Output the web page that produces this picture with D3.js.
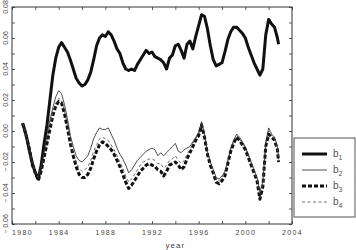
<!DOCTYPE html>
<html>
<head>
<meta charset="utf-8">
<script src="https://cdn.jsdelivr.net/npm/d3@7"></script>
<style>
  body { margin: 0; background: #fff; }
  svg { display: block; font-family: "Liberation Sans", Arial, sans-serif; }
</style>
</head>
<body>
<div id="chart"></div>
<script>
// sample times (decimal years)
var years = [1980.9,
  1981.0, 1981.25, 1981.5, 1981.75, 1982.0, 1982.25, 1982.5, 1982.75,
  1983.0, 1983.25, 1983.5, 1983.75, 1984.0, 1984.25, 1984.5, 1984.75,
  1985.0, 1985.25, 1985.5, 1985.75, 1986.0, 1986.25, 1986.5, 1986.75,
  1987.0, 1987.25, 1987.5, 1987.75, 1988.0, 1988.25, 1988.5, 1988.75,
  1989.0, 1989.25, 1989.5, 1989.75, 1990.0, 1990.25, 1990.5, 1990.75,
  1991.0, 1991.25, 1991.5, 1991.75, 1992.0, 1992.25, 1992.5, 1992.75,
  1993.0, 1993.25, 1993.5, 1993.75, 1994.0, 1994.25, 1994.5, 1994.75,
  1995.0, 1995.25, 1995.5, 1995.75, 1996.0, 1996.25, 1996.5, 1996.75,
  1997.0, 1997.25, 1997.5, 1997.75, 1998.0, 1998.25, 1998.5, 1998.75,
  1999.0, 1999.25, 1999.5, 1999.75, 2000.0, 2000.25, 2000.5, 2000.75,
  2001.0, 2001.25, 2001.5, 2001.75, 2002.0, 2002.25, 2002.5, 2002.75,
  2002.85];

var b1 = [0.005,
  0.003, -0.004, -0.013, -0.021, -0.027, -0.031, -0.022, -0.008,
  0.004, 0.020, 0.036, 0.047, 0.054, 0.057, 0.054, 0.051,
  0.046, 0.040, 0.034, 0.031, 0.029, 0.030, 0.033, 0.038,
  0.046, 0.055, 0.060, 0.062, 0.061, 0.064, 0.062, 0.058,
  0.053, 0.050, 0.044, 0.040, 0.039, 0.040, 0.039, 0.043,
  0.046, 0.049, 0.052, 0.050, 0.051, 0.048, 0.047, 0.046,
  0.044, 0.040, 0.047, 0.049, 0.055, 0.056, 0.052, 0.047,
  0.056, 0.058, 0.053, 0.061, 0.068, 0.075, 0.074, 0.066,
  0.055, 0.046, 0.042, 0.043, 0.044, 0.051, 0.059, 0.064,
  0.067, 0.067, 0.065, 0.063, 0.060, 0.054, 0.049, 0.044,
  0.040, 0.036, 0.040, 0.062, 0.072, 0.069, 0.067, 0.060,
  0.056];

var b2 = [0.005,
  0.003, -0.004, -0.012, -0.021, -0.026, -0.029, -0.022, -0.012,
  -0.002, 0.007, 0.015, 0.022, 0.026, 0.024, 0.017, 0.008,
  -0.003, -0.010, -0.016, -0.019, -0.020, -0.018, -0.016, -0.011,
  -0.005, -0.001, 0.002, 0.001, 0.001, 0.002, -0.002, -0.006,
  -0.011, -0.015, -0.018, -0.022, -0.027, -0.025, -0.022, -0.019,
  -0.017, -0.015, -0.013, -0.012, -0.011, -0.012, -0.016, -0.014,
  -0.016, -0.014, -0.012, -0.010, -0.008, -0.013, -0.014, -0.012,
  -0.011, -0.010, -0.007, -0.004, -0.001, 0.006, -0.002, -0.013,
  -0.020, -0.025, -0.030, -0.031, -0.029, -0.026, -0.019, -0.011,
  -0.006, -0.002, -0.004, -0.007, -0.010, -0.015, -0.020, -0.025,
  -0.030, -0.039, -0.033, -0.007, 0.002, -0.002, -0.004, -0.010,
  -0.018];

var b3 = [0.005,
  0.003, -0.004, -0.012, -0.022, -0.027, -0.032, -0.026, -0.017,
  -0.008, 0.001, 0.010, 0.016, 0.019, 0.018, 0.011, 0.002,
  -0.008, -0.016, -0.023, -0.028, -0.030, -0.030, -0.028, -0.024,
  -0.018, -0.013, -0.009, -0.007, -0.008, -0.010, -0.012, -0.015,
  -0.019, -0.023, -0.028, -0.033, -0.037, -0.035, -0.032, -0.029,
  -0.026, -0.024, -0.022, -0.021, -0.022, -0.023, -0.025, -0.026,
  -0.029, -0.026, -0.022, -0.021, -0.020, -0.022, -0.025, -0.023,
  -0.018, -0.014, -0.010, -0.006, -0.003, 0.004, -0.004, -0.015,
  -0.022, -0.027, -0.033, -0.034, -0.032, -0.029, -0.021, -0.013,
  -0.008, -0.004, -0.006, -0.009, -0.012, -0.017, -0.022, -0.027,
  -0.032, -0.044, -0.036, -0.010, -0.002, -0.004, -0.006, -0.012,
  -0.020];

var b4 = [0.005,
  0.003, -0.004, -0.012, -0.021, -0.027, -0.030, -0.024, -0.015,
  -0.006, 0.003, 0.012, 0.018, 0.021, 0.020, 0.013, 0.004,
  -0.006, -0.013, -0.020, -0.024, -0.026, -0.025, -0.023, -0.019,
  -0.013, -0.009, -0.005, -0.004, -0.005, -0.006, -0.009, -0.012,
  -0.016, -0.020, -0.024, -0.029, -0.033, -0.031, -0.028, -0.025,
  -0.022, -0.020, -0.019, -0.018, -0.018, -0.019, -0.021, -0.021,
  -0.024, -0.022, -0.019, -0.018, -0.016, -0.019, -0.021, -0.019,
  -0.015, -0.012, -0.008, -0.005, -0.002, 0.005, -0.003, -0.014,
  -0.021, -0.026, -0.031, -0.032, -0.030, -0.027, -0.020, -0.012,
  -0.007, -0.003, -0.005, -0.008, -0.011, -0.016, -0.021, -0.026,
  -0.031, -0.041, -0.035, -0.009, 0.000, -0.003, -0.005, -0.011,
  -0.019];

var xTicks = [1980, 1982, 1984, 1986, 1988, 1990, 1992, 1994, 1996, 1998, 2000, 2002, 2004];
var xLabels = [1980, 1984, 1988, 1992, 1996, 2000, 2004];
var yTicks = [-0.06, -0.05, -0.04, -0.03, -0.02, -0.01, 0, 0.01, 0.02, 0.03, 0.04, 0.05, 0.06, 0.07, 0.08];
var yLabels = ["-0.06", "-0.04", "-0.02", "0.00", "0.02", "0.04", "0.06", "0.08"];

var seriesNames = ["b1", "b2", "b3", "b4"];
var seriesData = [b1, b2, b3, b4];
var seriesStyle = {
  b1: {w: 3, dash: null, col: "#111"},
  b2: {w: 0.8, dash: null, col: "#222"},
  b3: {w: 3, dash: "4,2", col: "#111"},
  b4: {w: 0.8, dash: "3,2.5", col: "#444"}
};

var W = 356, H = 250;
var margin = {top: 7, right: 64, bottom: 26, left: 12};

var svg = d3.select("#chart").append("svg")
  .attr("width", W).attr("height", H);

var x = d3.scaleLinear().domain([1980, 2004]).range([margin.left, W - margin.right]);
var y = d3.scaleLinear().domain([-0.06, 0.08]).range([H - margin.bottom, margin.top]);

var axCol = "#333";

// inward ticks on all four sides
function styleAxis(g) {
  g.select(".domain").remove();
  g.selectAll(".tick line").attr("stroke", axCol).attr("stroke-width", 0.8);
}

svg.append("g")
  .attr("transform", "translate(0," + y.range()[0] + ")")
  .call(d3.axisBottom(x).tickValues(xTicks).tickSize(-3).tickPadding(6)
    .tickFormat(function(d) { return xLabels.indexOf(d) >= 0 ? d : ""; }))
  .call(styleAxis)
  .call(function(g) {
    g.selectAll("text").attr("fill", "#444").attr("font-size", 7)
      .attr("letter-spacing", 1.3)
      .attr("dx", function(d) { return d === 1980 ? 10 : 0; });
  });

svg.append("g")
  .attr("transform", "translate(0," + y.range()[1] + ")")
  .call(d3.axisTop(x).tickValues(xTicks).tickSize(-3).tickFormat(""))
  .call(styleAxis);

svg.append("g")
  .attr("transform", "translate(" + x.range()[0] + ",0)")
  .call(d3.axisLeft(y).tickValues(yTicks).tickSize(-3).tickFormat(""))
  .call(styleAxis);

svg.append("g")
  .attr("transform", "translate(" + x.range()[1] + ",0)")
  .call(d3.axisRight(y).tickValues(yTicks).tickSize(-3).tickFormat(""))
  .call(styleAxis);

// rotated y labels
svg.append("g").selectAll("text")
  .data(yLabels)
  .enter().append("text")
  .attr("transform", function(d) { return "translate(7.5," + y(+d) + ") rotate(-90)"; })
  .attr("text-anchor", "middle")
  .attr("font-size", 7)
  .attr("fill", "#444")
  .text(function(d) { return d.replace("-", "\u2212 "); });

// frame
svg.append("rect")
  .attr("x", x.range()[0]).attr("y", y.range()[1])
  .attr("width", x.range()[1] - x.range()[0])
  .attr("height", y.range()[0] - y.range()[1])
  .attr("fill", "none").attr("stroke", axCol).attr("stroke-width", 1);

svg.append("text")
  .attr("x", x(1994)).attr("y", 248)
  .attr("text-anchor", "middle")
  .attr("font-size", 8).attr("letter-spacing", 1)
  .attr("fill", "#444")
  .text("year");

// series
var line = d3.line()
  .x(function(d) { return x(d[0]); })
  .y(function(d) { return y(d[1]); });

// draw thin ones over thick ones so they stay visible
var order = ["b1", "b3", "b2", "b4"];
order.forEach(function(name) {
  var vals = seriesData[seriesNames.indexOf(name)];
  var pts = years.map(function(yr, i) { return [yr, vals[i]]; });
  var s = seriesStyle[name];
  svg.append("path")
    .datum(pts)
    .attr("d", line)
    .attr("fill", "none")
    .attr("stroke", s.col)
    .attr("stroke-width", s.w)
    .attr("stroke-linejoin", "round")
    .attr("stroke-dasharray", s.dash);
});

// legend
var lg = svg.append("g").attr("transform", "translate(294,138)");
lg.append("rect")
  .attr("x", 0).attr("y", 0).attr("width", 61).attr("height", 79)
  .attr("fill", "#fff").attr("stroke", "#555").attr("stroke-width", 1);

var item = lg.selectAll(".item")
  .data(seriesNames)
  .enter().append("g")
  .attr("class", "item")
  .attr("transform", function(d, i) { return "translate(0," + (16 + i * 16) + ")"; });

item.append("line")
  .attr("x1", 8).attr("x2", 33).attr("y1", 0).attr("y2", 0)
  .attr("stroke", function(d) { return seriesStyle[d].col; })
  .attr("stroke-width", function(d) { return seriesStyle[d].w; })
  .attr("stroke-dasharray", function(d) { return seriesStyle[d].dash; });

var lbl = item.append("text")
  .attr("x", 39).attr("y", 3)
  .attr("font-size", 10)
  .attr("fill", "#555");
lbl.append("tspan").text("b");
lbl.append("tspan").attr("dy", 2.5).attr("font-size", 7)
  .text(function(d) { return d.slice(1); });
</script>
</body>
</html>
